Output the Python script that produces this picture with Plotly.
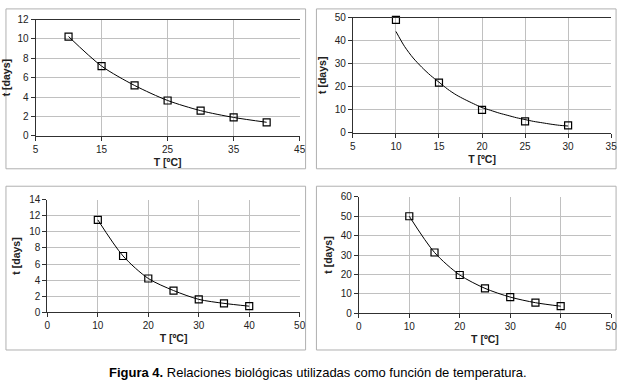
import plotly.graph_objects as go

W, H = 627, 387

# ---- data ----
p1_T = [10, 15, 20, 25, 30, 35, 40]
p1_t = [10.25, 7.2, 5.2, 3.65, 2.6, 1.9, 1.4]

p2_T = [10, 15, 20, 25, 30]
p2_t = [49, 21.8, 10, 5, 3.3]
p2_fit_T = [10, 11, 12, 13, 14, 15, 16, 17, 18, 19, 20, 21, 22, 23, 24, 25, 26, 27, 28, 29, 30]
p2_fit_t = [44, 37.5, 32.5, 28.5, 25, 22, 19, 16.5, 14.5, 12.7, 11, 9.8, 8.6, 7.6, 6.6, 5.8, 5.0, 4.4, 3.8, 3.3, 3.0]

p3_T = [10, 15, 20, 25, 30, 35, 40]
p3_t = [11.5, 7.0, 4.2, 2.7, 1.6, 1.1, 0.75]

p4_T = [10, 15, 20, 25, 30, 35, 40]
p4_t = [50, 31.3, 19.7, 12.8, 8.3, 5.4, 3.6]

x_title = "T [ºC]"
y_title = "t [days]"
caption = "<b>Figura 4.</b> Relaciones biológicas utilizadas como función de temperatura."

FONT = "Liberation Sans, Arial, sans-serif"

def px_x(a, b):
    return [a / W, b / W]

def px_y(top, bottom):
    return [1 - bottom / H, 1 - top / H]

panels = [
    # (xdomain, ydomain, xrange, xtick0, xdtick, yrange, ydtick, frame, top_border)
    (px_x(33, 301), px_y(14, 134), [5, 45], 5, 10, [0, 12], 2, (3, 3, 307, 168), True),
    (px_x(355, 617), px_y(12, 131), [5, 35], 5, 5, [0, 50], 10, (318, 3, 622, 168), True),
    (px_x(45, 301), px_y(200, 316), [0, 50], 0, 10, [0, 14], 2, (3, 186, 307, 355), False),
    (px_x(361, 617), px_y(197, 317), [0, 50], 0, 10, [0, 60], 10, (318, 186, 622, 355), False),
]

fig = go.Figure()

line_sets = [
    (p1_T, p1_t, p1_T, p1_t),
    (p2_T, p2_t, p2_fit_T, p2_fit_t),
    (p3_T, p3_t, p3_T, p3_t),
    (p4_T, p4_t, p4_T, p4_t),
]

shapes = []
layout_axes = {}
for i, ((xd, yd, xr, xt0, xdt, yr, ydt, fr, topb), (mx, my, lx, ly)) in enumerate(zip(panels, line_sets)):
    n = "" if i == 0 else str(i + 1)
    xa = "x" + n
    ya = "y" + n
    fig.add_trace(go.Scatter(x=lx, y=ly, mode="lines", line=dict(color="black", width=1, shape="spline", smoothing=0.8),
                             xaxis=xa, yaxis=ya, showlegend=False, hoverinfo="skip", cliponaxis=False))
    fig.add_trace(go.Scatter(x=mx, y=my, mode="markers", cliponaxis=False,
                             marker=dict(symbol="square-open", size=7, color="black", line=dict(width=1.2, color="black")),
                             xaxis=xa, yaxis=ya, showlegend=False))
    common = dict(showgrid=True, gridcolor="#c0c0c0", gridwidth=1, zeroline=False,
                  showline=True, linecolor="#303030", linewidth=1,
                  ticks="outside", ticklen=4, tickcolor="#303030", ticklabeloverflow="allow",
                  tickfont=dict(family=FONT, size=10, color="#222"), fixedrange=True)
    layout_axes["xaxis" + n] = dict(domain=xd, range=xr, dtick=xdt, tick0=xt0, anchor=ya, mirror=topb,
                                    title=dict(text="<b>" + x_title + "</b>", font=dict(family=FONT, size=10.5, color="#222"), standoff=4),
                                    **common)
    layout_axes["yaxis" + n] = dict(domain=yd, range=yr, dtick=ydt, tick0=0, anchor=xa,
                                    title=dict(text="<b>" + y_title + "</b>", font=dict(family=FONT, size=10.5, color="#222"), standoff=6),
                                    **common)
    x0, y0, x1, y1 = fr
    shapes.append(dict(type="rect", xref="paper", yref="paper",
                       x0=x0 / W, x1=x1 / W, y0=1 - y1 / H, y1=1 - y0 / H,
                       line=dict(color="#b0b0b0", width=1), fillcolor="rgba(0,0,0,0)", layer="below"))

fig.update_layout(
    width=W, height=H,
    margin=dict(l=0, r=0, t=0, b=0),
    paper_bgcolor="white", plot_bgcolor="white",
    shapes=shapes,
    annotations=[dict(text=caption, xref="paper", yref="paper", x=320 / W, y=1 - 378 / H,
                      xanchor="center", yanchor="middle", showarrow=False,
                      font=dict(family=FONT, size=13, color="black"))],
    **layout_axes,
)

fig.write_html("out.html", config={"displayModeBar": False},
               post_script="document.body.style.margin='0';document.body.style.overflow='hidden';")
